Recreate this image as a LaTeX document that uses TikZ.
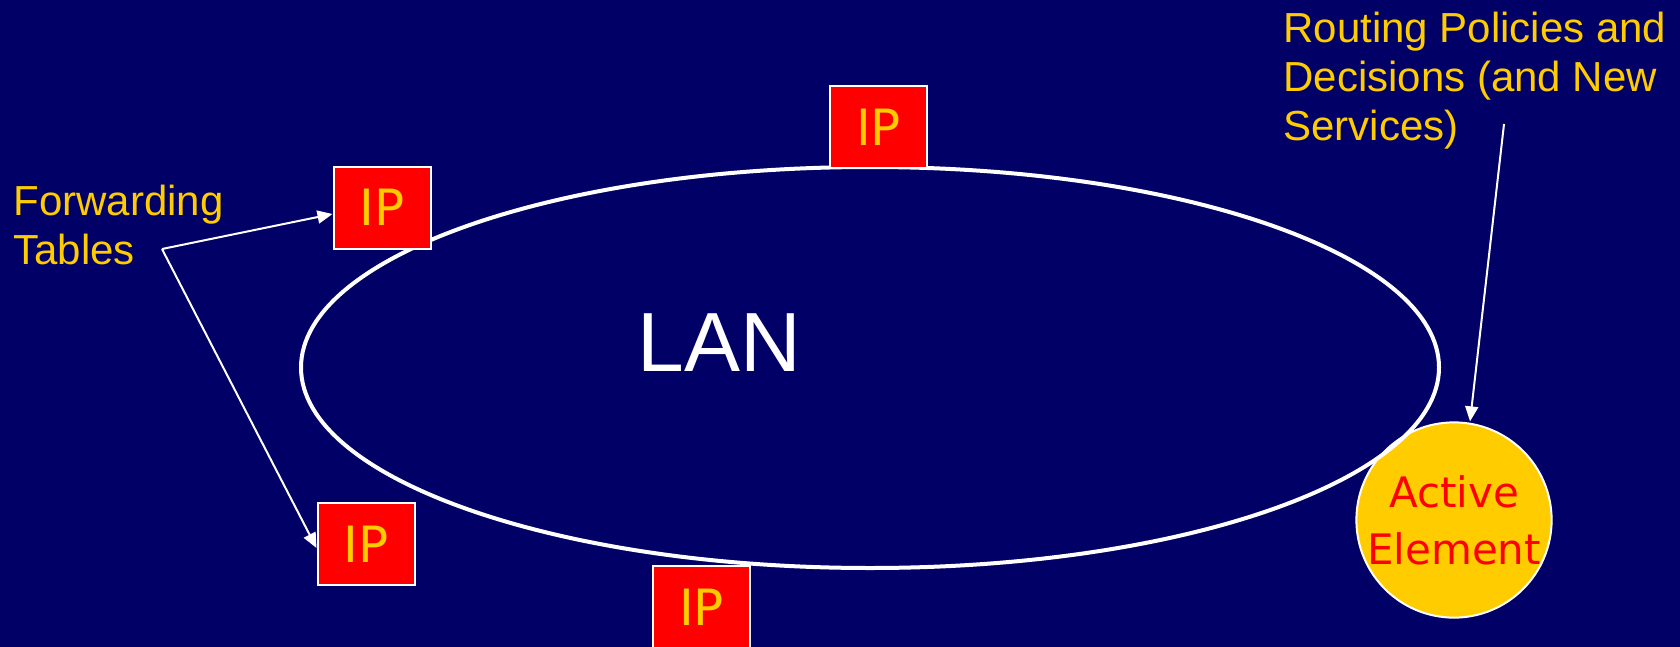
\documentclass[tikz,border=0pt]{standalone}
\usepackage{fontspec}
\setmainfont{Liberation Sans}
\newfontfamily\comicfont{DejaVu Sans}
\usetikzlibrary{arrows.meta,shapes.geometric}
\definecolor{navy}{RGB}{0,0,102}
\definecolor{gold}{RGB}{255,204,0}
\definecolor{pured}{RGB}{255,0,0}
\tikzset{
  ipbox/.style={draw=white, line width=1pt, fill=pured, minimum width=48.5pt, minimum height=41pt, inner sep=0pt, text=gold, font=\comicfont\fontsize{25}{30}\selectfont},
  label/.style={text=gold, align=left, inner sep=0pt, anchor=north west, font=\fontsize{21}{24.4}\selectfont},
  pointer/.style={draw=white, line width=1pt, -{Triangle[length=7.5pt,width=6.5pt]}},
}
\begin{document}
\begin{tikzpicture}[x=0.5pt,y=-0.5pt]
\fill[navy] (0,0) rectangle (1680,647);
\useasboundingbox (0,0) rectangle (1680,647);
% active element
\node[circle, draw=white, line width=1pt, fill=gold, minimum size=97pt, inner sep=0pt, align=center, text=pured, font=\comicfont\fontsize{21}{28.5}\selectfont] (ae) at (1454,520) {Active\\Element};
% LAN ellipse
\node[ellipse, draw=white, line width=2pt, minimum width=569pt, minimum height=200.5pt, inner sep=0pt] (lan) at (870,367.5) {};
\node[text=white, font=\fontsize{42}{50}\selectfont, inner sep=0pt] (lantext) at (719,343) {LAN};
% IP boxes
\node[ipbox] (ipt) at (878.5,127) {IP};
\node[ipbox] (ipa) at (382,207.5) {IP};
\node[ipbox] (ipb) at (366,544) {IP};
\node[ipbox] (ipc) at (701.5,607) {IP};
% labels
\node[label] (fwd) at (13,185) {Forwarding\\Tables};
\node[label] (rout) at (1283,12) {Routing Policies and\\Decisions (and New\\Services)};
\coordinate (fork) at (162,249);
\coordinate (rstart) at (1504,124);
% pointers
\draw[pointer] (fork) -- ([yshift=-3.25pt]ipa.west);
\draw[pointer] (fork) -- ([yshift=-2pt]ipb.west);
\draw[pointer] (rstart) -- ([xshift=8pt]ae.north);
\end{tikzpicture}
\end{document}
